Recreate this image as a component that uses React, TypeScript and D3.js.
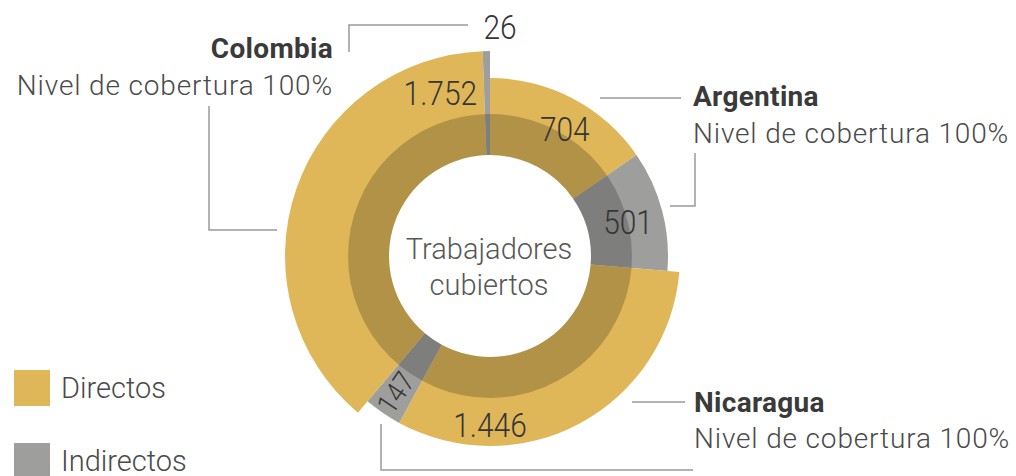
import React from 'react';
import * as d3 from 'd3';

// ---- data ----
const countries = ['Argentina', 'Nicaragua', 'Colombia'];
const directos = [704, 1446, 1752];
const indirectos = [501, 147, 26];
const coverageLabel = 'Nivel de cobertura';
const coverage = ['100%', '100%', '100%'];
const legendLabels = ['Directos', 'Indirectos'];
const centerLines = ['Trabajadores', 'cubiertos'];

// ---- layout / style ----
const W = 1016;
const H = 476;
const CX = 490;
const CY = 256;
const R_IN = 101;
const R_BAND = 142;
const outerR: Record<string, number> = { Argentina: 178, Nicaragua: 190, Colombia: 205 };
const COLORS = { Directos: '#DFB759', Indirectos: '#9E9E9D' };
const FONT = 'Roboto, "Noto Sans", sans-serif';

// value label placement: radius, angle in degrees clockwise from 12 o'clock (null = mid angle)
const labelPlace: Record<string, { r: number; a: number | null; rot?: boolean; size?: number }> = {
  'Argentina-Directos': { r: 147, a: 30.6 },
  'Argentina-Indirectos': { r: 142, a: 76.4 },
  'Nicaragua-Directos': { r: 169, a: 180 },
  'Nicaragua-Indirectos': { r: 166, a: null, rot: true, size: 29 },
  'Colombia-Directos': { r: 170, a: 343 },
  'Colombia-Indirectos': { r: 229, a: 2.5 },
};

const locale = d3.formatLocale({ decimal: ',', thousands: '.', grouping: [3], currency: ['', ''] });
const fmt = locale.format(',d');

type Seg = { country: string; type: 'Directos' | 'Indirectos'; value: number };
const segments: Seg[] = [];
countries.forEach((c, i) => {
  segments.push({ country: c, type: 'Directos', value: directos[i] });
  segments.push({ country: c, type: 'Indirectos', value: indirectos[i] });
});

const pie = d3.pie<Seg>().sort(null).value((d) => d.value);
const arcs = pie(segments);

const lineColor = '#9a9a9a';

export default function App() {
  const band = d3.arc()({ innerRadius: R_IN, outerRadius: R_BAND, startAngle: 0, endAngle: 2 * Math.PI }) as string;

  const countryLabels = [
    { c: 'Colombia', x: 333, y1: 58, y2: 95, anchor: 'end' },
    { c: 'Argentina', x: 693, y1: 106, y2: 143, anchor: 'start' },
    { c: 'Nicaragua', x: 694, y1: 412, y2: 448, anchor: 'start' },
  ];

  const leaders = [
    [[349, 52], [349, 25], [468, 25]],
    [[209, 106], [209, 230], [277, 230]],
    [[600, 98], [681, 98]],
    [[695, 153], [695, 206], [670, 206]],
    [[632, 402], [685, 402]],
    [[381, 424], [381, 470], [693, 470]],
  ];

  return (
    <svg width={W} height={H} style={{ position: 'fixed', left: 0, top: 0, display: 'block' }} fontFamily={FONT}>
      <rect width={W} height={H} fill="#fff" />
      <g transform={`translate(${CX},${CY})`}>
        {arcs.map((a, i) => {
          const path = d3.arc<d3.PieArcDatum<Seg>>()
            .innerRadius(R_IN)
            .outerRadius(outerR[a.data.country])(a) as string;
          return <path key={i} d={path} fill={COLORS[a.data.type]} />;
        })}
        <path d={band} fill="#000" fillOpacity={0.2} />
        {arcs.map((a, i) => {
          const key = `${a.data.country}-${a.data.type}`;
          const p = labelPlace[key];
          const mid = (a.startAngle + a.endAngle) / 2;
          const ang = p.a === null ? mid : (p.a * Math.PI) / 180;
          const x = Math.sin(ang) * p.r;
          const y = -Math.cos(ang) * p.r;
          const rot = p.rot ? (Math.atan2(Math.cos(ang), -Math.sin(ang)) * 180) / Math.PI : 0;
          return (
            <text
              key={'l' + i}
              transform={`translate(${x},${y}) rotate(${rot}) scale(0.88,1)`}
              textAnchor="middle"
              dominantBaseline="central"
              fontSize={p.size ?? 34}
              fontWeight={300}
              fill="#363636"
            >
              {fmt(a.data.value)}
            </text>
          );
        })}
        {centerLines.map((t, i) => (
          <text key={'c' + i} x={-1} y={3 + i * 36} textAnchor="middle" fontSize={29} fontWeight={300} fill="#575757">
            {t}
          </text>
        ))}
      </g>
      {leaders.map((pts, i) => (
        <polyline key={'ld' + i} points={pts.map((p) => p.join(',')).join(' ')} fill="none" stroke={lineColor} strokeWidth={1.5} />
      ))}
      {countryLabels.map((l, i) => {
        const idx = countries.indexOf(l.c);
        return (
          <g key={'cl' + i}>
            <text x={l.x} y={l.y1} textAnchor={l.anchor as any} fontSize={28} fontWeight={700} fill="#3a3a3a" letterSpacing={0.3}>
              {l.c}
            </text>
            <text x={l.x} y={l.y2} textAnchor={l.anchor as any} fontSize={28} fontWeight={300} fill="#4a4a4a" letterSpacing={0.85}>
              {`${coverageLabel} ${coverage[idx]}`}
            </text>
          </g>
        );
      })}
      {legendLabels.map((t, i) => (
        <g key={'lg' + i}>
          <rect x={14} y={370 + i * 73} width={36} height={36} fill={COLORS[t as 'Directos' | 'Indirectos']} />
          <text x={61} y={398 + i * 73} fontSize={29} fontWeight={300} fill="#4a4a4a">
            {t}
          </text>
        </g>
      ))}
    </svg>
  );
}
